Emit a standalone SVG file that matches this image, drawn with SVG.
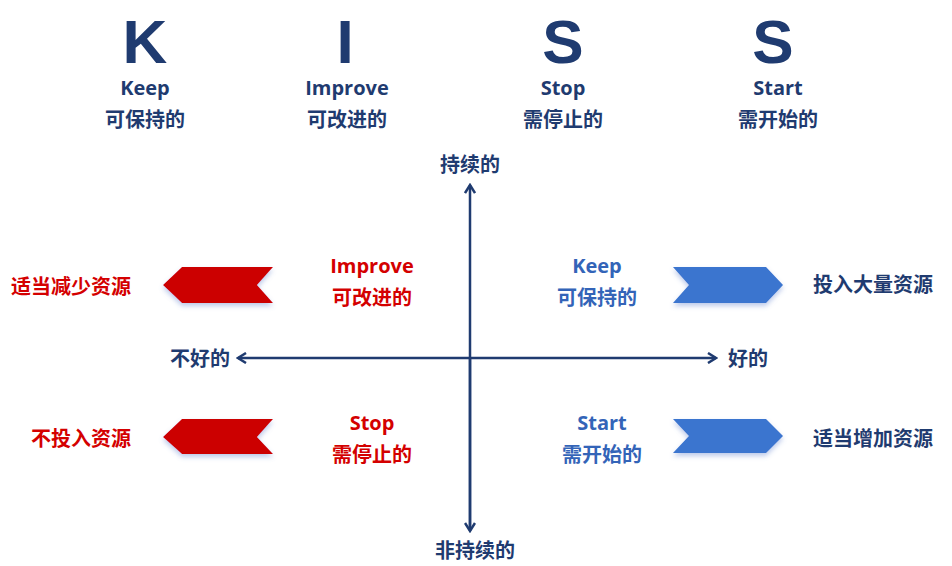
<svg xmlns="http://www.w3.org/2000/svg" width="952" height="566" viewBox="0 0 952 566">
<defs>
<style>
text{font-family:"Open Sans","Noto Sans CJK SC",sans-serif;font-weight:bold;text-anchor:middle}
.big{font-family:"Liberation Sans","Noto Sans CJK SC",sans-serif;font-size:62px;fill:#1F3B70}
.en{font-size:20px;fill:#1F3B70}
.zh{font-size:20px;fill:#1F3B70}
.red{fill:#D40000}
.blue{fill:#3364B8}
.dark{fill:#1F3B70}
.axis{stroke:#1F3B70;stroke-width:2.5;fill:none}
.rarrow{fill:#CC0000;filter:url(#sh)}
.barrow{fill:#3A74CF;filter:url(#sh)}
</style>
<filter id="sh" x="-10%" y="-20%" width="120%" height="150%">
<feDropShadow dx="0" dy="3" stdDeviation="2.5" flood-color="#6A8AD0" flood-opacity="0.45"/>
</filter>
<marker id="ah" viewBox="0 0 12 12" refX="10" refY="6" markerWidth="12" markerHeight="12" markerUnits="userSpaceOnUse" orient="auto-start-reverse">
<polyline points="2,1 10,6 2,11" fill="none" stroke="#1F3B70" stroke-width="2.5" stroke-linejoin="miter"/>
</marker>
</defs>
<rect width="952" height="566" fill="#FFFFFF"/>

<g id="kiss-k"><text class="big" x="145" y="63">K</text><text class="en" x="145" y="95">Keep</text><text class="zh" x="145" y="127">可保持的</text></g>
<g id="kiss-i"><text class="big" x="345" y="63">I</text><text class="en" x="347" y="95">Improve</text><text class="zh" x="347" y="127">可改进的</text></g>
<g id="kiss-s1"><text class="big" x="563" y="63">S</text><text class="en" x="563" y="95">Stop</text><text class="zh" x="563" y="127">需停止的</text></g>
<g id="kiss-s2"><text class="big" x="773" y="63">S</text><text class="en" x="778" y="95">Start</text><text class="zh" x="778" y="127">需开始的</text></g>

<g id="connectors">
<line class="axis" x1="470" y1="530" x2="470" y2="185" marker-end="url(#ah)"/>
<line class="axis" x1="470" y1="358" x2="470" y2="531" marker-end="url(#ah)"/>
<line class="axis" x1="238" y1="358" x2="716" y2="358" marker-start="url(#ah)" marker-end="url(#ah)"/>
</g>

<g id="label-top"><text class="zh dark" x="470" y="172">持续的</text></g>
<g id="label-bottom"><text class="zh dark" x="475" y="558">非持续的</text></g>
<g id="label-left"><text class="zh dark" x="200" y="366">不好的</text></g>
<g id="label-right"><text class="zh dark" x="748" y="366">好的</text></g>

<g id="q-improve"><text class="en red" x="372" y="273">Improve</text><text class="zh red" x="372" y="305">可改进的</text></g>
<g id="q-keep"><text class="en blue" x="597" y="273">Keep</text><text class="zh blue" x="597" y="305">可保持的</text></g>
<g id="q-stop"><text class="en red" x="372" y="430">Stop</text><text class="zh red" x="372" y="462">需停止的</text></g>
<g id="q-start"><text class="en blue" x="602" y="430">Start</text><text class="zh blue" x="602" y="462">需开始的</text></g>

<g id="arrow-tl"><polygon class="rarrow" points="163,285 182,267 273,267 257,285 273,303 182,303"/></g>
<g id="arrow-bl"><polygon class="rarrow" points="163,437 182,419 273,419 257,437 273,454 182,454"/></g>
<g id="arrow-tr"><polygon class="barrow" points="673,267 766,267 783,285 766,303 673,303 689,285"/></g>
<g id="arrow-br"><polygon class="barrow" points="673,419 766,419 783,436 766,453 673,453 689,436"/></g>

<g id="res-tl"><text class="zh red" x="71" y="294">适当减少资源</text></g>
<g id="res-bl"><text class="zh red" x="81" y="446">不投入资源</text></g>
<g id="res-tr"><text class="zh dark" x="873" y="292">投入大量资源</text></g>
<g id="res-br"><text class="zh dark" x="873" y="446">适当增加资源</text></g>
</svg>
